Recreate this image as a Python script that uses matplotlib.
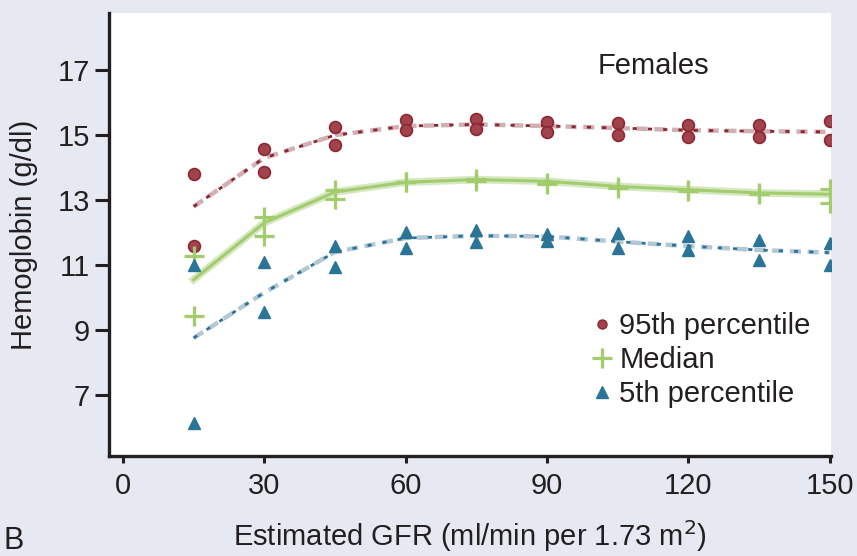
import matplotlib
matplotlib.use('Agg')
import matplotlib.pyplot as plt
from matplotlib.lines import Line2D

plt.rcParams['font.family'] = ['Liberation Sans', 'DejaVu Sans']

# GFR categories (ml/min per 1.73 m2)
gfr = [15, 30, 45, 60, 75, 90, 105, 120, 135, 150]

# observed values, two survey sets per percentile
p95_a = [13.8, 14.57, 15.26, 15.46, 15.5, 15.4, 15.37, 15.3, 15.3, 15.45]
p95_b = [11.6, 13.87, 14.7, 15.15, 15.2, 15.1, 15.0, 14.94, 14.94, 14.85]
med_a = [11.28, 12.49, 13.31, 13.55, 13.65, 13.53, 13.4, 13.3, 13.22, 13.34]
med_b = [9.44, 11.89, 13.03, 13.55, 13.6, 13.5, 13.38, 13.28, 13.2, 12.9]
p5_a = [11.0, 11.1, 11.6, 12.03, 12.08, 11.95, 11.98, 11.9, 11.77, 11.68]
p5_b = [6.14, 9.56, 10.95, 11.52, 11.72, 11.75, 11.52, 11.46, 11.15, 11.0]

# fitted curves
fit95 = [12.8, 14.3, 15.0, 15.28, 15.33, 15.28, 15.22, 15.15, 15.12, 15.1]
fit_med = [10.55, 12.3, 13.25, 13.55, 13.63, 13.58, 13.42, 13.32, 13.22, 13.18]
fit5 = [8.75, 10.15, 11.4, 11.83, 11.9, 11.88, 11.72, 11.58, 11.46, 11.38]

xticks = [0, 30, 60, 90, 120, 150]
yticks = [7, 9, 11, 13, 15, 17]

red, pink = '#8e2632', '#d1b0b4'
green, pale_green = '#a3cd6d', '#d6e8c3'
blue, pale_blue = '#2a7597', '#b3c7d5'
ink = '#231f20'
bg = '#e6e9f2'
fs = 21

fig = plt.figure(figsize=(8.57, 5.56), dpi=100, facecolor=bg)
ax = fig.add_axes([0.127, 0.179, 0.843, 0.798])
ax.set_facecolor('white')

# fitted lines (two-tone dashes)
ax.plot(gfr, fit95, color=pink, lw=3.2, dashes=(2.5, 1.5), zorder=2)
ax.plot(gfr, fit95, color=red, lw=2.0, dashes=(1.5, 4), zorder=2)
ax.plot(gfr, fit_med, color=pale_green, lw=5.5, zorder=2)
ax.plot(gfr, fit_med, color=green, lw=2.2, zorder=2)
ax.plot(gfr, fit5, color=pale_blue, lw=3.2, dashes=(2.5, 1.5), zorder=2)
ax.plot(gfr, fit5, color=blue, lw=2.0, dashes=(1.5, 4), zorder=2)

# observed points
for ys in (p95_a, p95_b):
    ax.plot(gfr, ys, 'o', ms=8.5, mfc='#a0434c', mec=red, mew=1.2, ls='none', zorder=3)
for ys in (med_a, med_b):
    ax.plot(gfr, ys, '+', ms=15, mew=2.3, color=green, ls='none', zorder=3)
for ys in (p5_a, p5_b):
    ax.plot(gfr, ys, '^', ms=9, color=blue, mec=blue, ls='none', zorder=3)

ax.set_xlim(-3, 150.3)
ax.set_ylim(5.1, 18.77)
ax.set_xticks(xticks)
ax.set_yticks(yticks)
for s in ('top', 'right'):
    ax.spines[s].set_visible(False)
for s in ('left', 'bottom'):
    ax.spines[s].set_linewidth(2.4)
    ax.spines[s].set_color(ink)
ax.tick_params(axis='y', length=10, width=2.2, color=ink, pad=3.5, labelsize=fs, labelcolor=ink)
ax.tick_params(axis='x', length=5, width=2.2, color=ink, pad=6, labelsize=fs, labelcolor=ink)

ax.set_ylabel('Hemoglobin (g/dl)', fontsize=fs, color=ink, labelpad=14)
ax.set_xlabel('Estimated GFR (ml/min per 1.73 m$^2$)', fontsize=fs, color=ink, labelpad=13)

ax.text(0.677, 0.862, 'Females', transform=ax.transAxes, fontsize=fs, color=ink, va='baseline')

handles = [
    Line2D([], [], marker='o', ls='none', ms=6.5, mfc='#a0434c', mec=red),
    Line2D([], [], marker='+', ls='none', ms=15, mew=2.3, color=green),
    Line2D([], [], marker='^', ls='none', ms=8, color=blue),
]
ax.legend(handles, ['95th percentile', 'Median', '5th percentile'], loc='upper left',
          bbox_to_anchor=(0.668, 0.325), frameon=False, fontsize=fs, labelcolor=ink,
          handlelength=0.7, handletextpad=0.25, labelspacing=0.2, borderpad=0,
          borderaxespad=0)

fig.text(0.004, 0.012, 'B', fontsize=fs + 1, color=ink)

fig.savefig('out.png', dpi=100, facecolor=bg)
